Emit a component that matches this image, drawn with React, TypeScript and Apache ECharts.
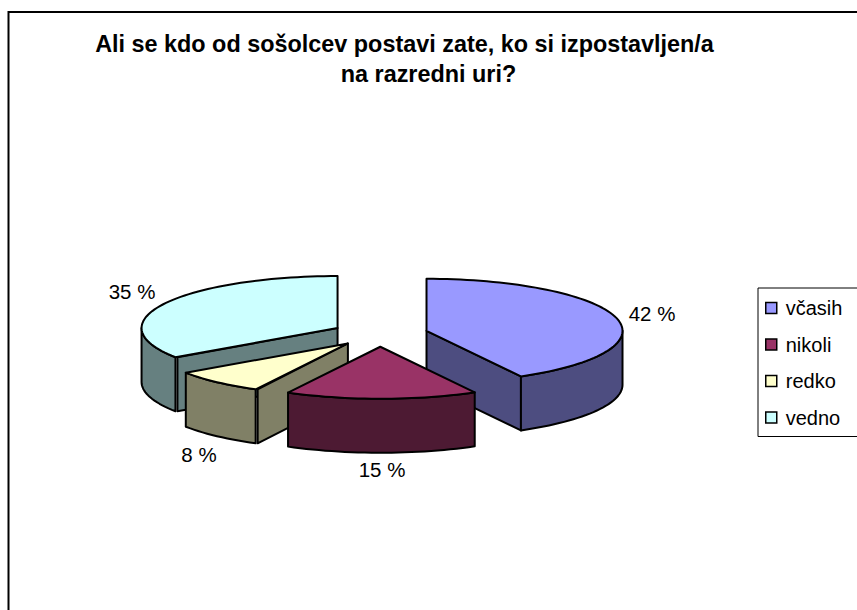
import React, { useEffect, useRef } from "react";
import * as echarts from "echarts";

const TITLE_LINES = ["Ali se kdo od sošolcev postavi zate, ko si izpostavljen/a", "na razredni uri?"];
const CATEGORIES = ["včasih", "nikoli", "redko", "vedno"];
const VALUES = [42, 15.8, 7.7, 34.5];
const VALUE_LABELS = ["42 %", "15 %", "8 %", "35 %"];
const TOP_COLORS = ["#9999FF", "#993366", "#FFFFCC", "#CCFFFF"];
const SIDE_COLORS = ["#4D4D80", "#4D1A33", "#808066", "#668080"];

const FONT = '"Liberation Sans", Arial, sans-serif';
const CX = 380, CY = 334, RX = 196, RY = 52, DEPTH = 54, EXPLODE = 0.245;
const DRAW_ORDER = [2, 4, 3, 1];
const LABEL_AT = [[652, 313.5], [382, 469], [199, 454], [132, 291]];
const TITLE_AT = [[399.5, 23.5], [423.5, 54]];
const TOTAL = VALUES.reduce((a, b) => a + b, 0);

function sliceRenderer(i: number) {
  const before = VALUES.slice(0, i).reduce((a, b) => a + b, 0);
  return (_params: any, api: any) => {
    const value = api.value(0);
    const rad = Math.PI / 180;
    const ts = (before / TOTAL) * 360;
    const te = ts + (value / TOTAL) * 360;
    const mid = ((ts + te) / 2) * rad;
    const ox = CX + EXPLODE * RX * Math.sin(mid);
    const oy = CY - EXPLODE * RY * Math.cos(mid);
    const pt = (deg: number, dz = 0): number[] => [
      ox + RX * Math.sin(deg * rad),
      oy - RY * Math.cos(deg * rad) + dz,
    ];
    const arc = (a: number, b: number, dz = 0) => {
      const n = Math.max(2, Math.ceil(Math.abs(b - a) / 2));
      const out: number[][] = [];
      for (let k = 0; k <= n; k++) out.push(pt(a + ((b - a) * k) / n, dz));
      return out;
    };
    const edge = { stroke: "#000", lineWidth: 2, lineJoin: "round" };
    const children: any[] = [];
    const side = (points: number[][]) =>
      children.push({ type: "polygon", shape: { points }, style: { fill: SIDE_COLORS[i], ...edge } });
    const radial = (deg: number, shift: number) => {
      const p = pt(deg), q = pt(deg, DEPTH);
      side([[ox, oy], [p[0] + shift, p[1]], [q[0] + shift, q[1]], [ox, oy + DEPTH]]);
    };
    if (Math.sin(ts * rad) < -0.01) radial(ts, 2);
    if (Math.sin(te * rad) > 0.01) radial(te, 0);
    const a = Math.max(ts, 90), b = Math.min(te, 270);
    if (b > a) side([...arc(a, b), ...arc(b, a, DEPTH)]);
    children.push({
      type: "polygon",
      shape: { points: [[ox, oy], ...arc(ts, te)] },
      style: { fill: TOP_COLORS[i], ...edge },
    });
    children.push({
      type: "text",
      x: LABEL_AT[i][0],
      y: LABEL_AT[i][1],
      style: {
        text: VALUE_LABELS[i],
        fontSize: 20.5,
        fontFamily: FONT,
        fill: "#000",
        align: "center",
        verticalAlign: "middle",
        textAlign: "center",
        textVerticalAlign: "middle",
      },
    });
    return { type: "group", children };
  };
}

export default function App() {
  const ref = useRef<HTMLDivElement>(null);
  useEffect(() => {
    const chart = echarts.init(ref.current!, undefined, { renderer: "svg" });
    chart.setOption({
      animation: false,
      backgroundColor: "#fff",
      title: TITLE_LINES.map((text, i) => ({
        text,
        left: TITLE_AT[i][0],
        top: TITLE_AT[i][1],
        textAlign: "center",
        textStyle: { fontFamily: FONT, fontWeight: "bold", fontSize: 23.4, lineHeight: 30, color: "#000" },
      })),
      legend: {
        orient: "vertical",
        left: 758,
        top: 288,
        padding: [10, 30, 9, 7],
        itemWidth: 11,
        itemHeight: 11,
        itemGap: 16.5,
        icon: "rect",
        borderColor: "#000",
        borderWidth: 1,
        textStyle: { fontFamily: FONT, fontSize: 20, color: "#000", padding: [0, 0, 0, 4] },
        data: CATEGORIES.map((name, i) => ({
          name,
          itemStyle: { color: TOP_COLORS[i], borderColor: "#000", borderWidth: 1.5 },
        })),
      },
      graphic: [
        {
          type: "rect",
          shape: { x: 8.5, y: 12, width: 900, height: 700 },
          style: { fill: "none", stroke: "#000", lineWidth: 2 },
          silent: true,
        },
      ],
      series: CATEGORIES.map((name, i) => ({
        type: "custom",
        name,
        coordinateSystem: "none",
        z: DRAW_ORDER[i],
        itemStyle: { color: TOP_COLORS[i] },
        data: [[VALUES[i]]],
        renderItem: sliceRenderer(i),
      })),
    });
    return () => chart.dispose();
  }, []);
  return <div ref={ref} style={{ position: "absolute", left: 0, top: 0, width: 857, height: 610 }} />;
}
